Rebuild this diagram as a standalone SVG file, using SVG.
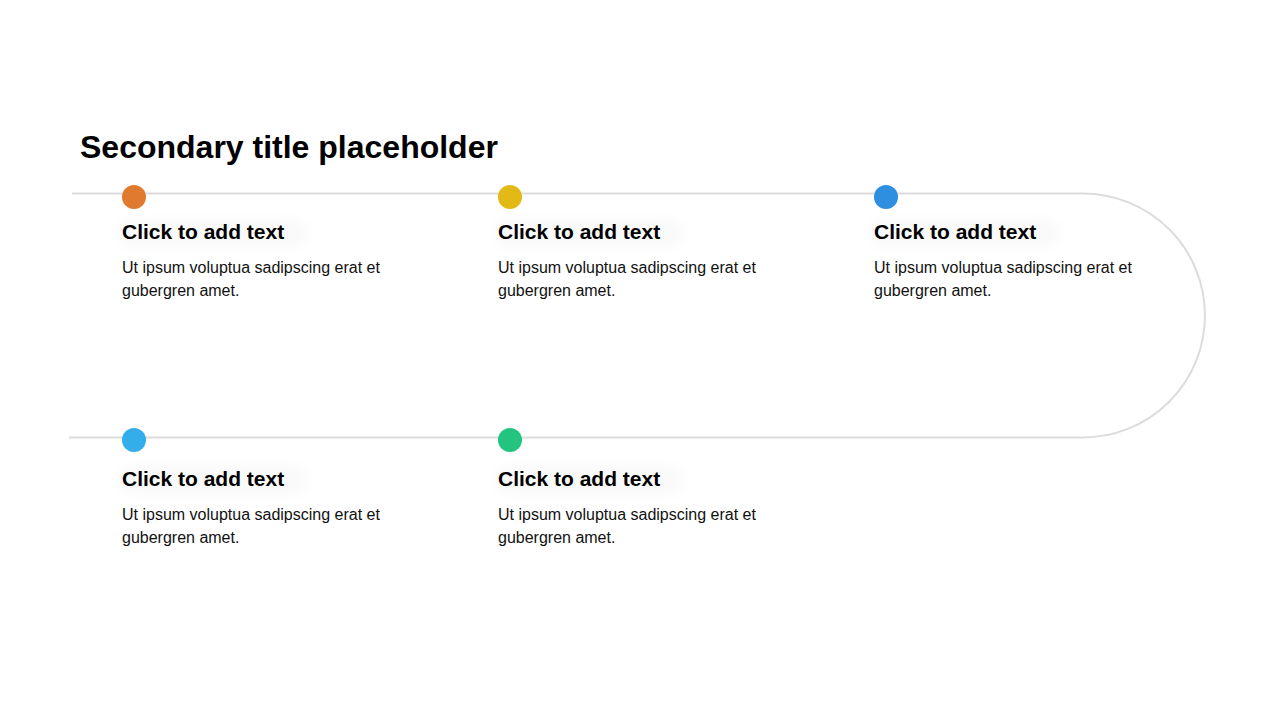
<svg xmlns="http://www.w3.org/2000/svg" width="1280" height="720" viewBox="0 0 1280 720">
<defs>
<style>
.title{font-family:"Liberation Sans",Arial,sans-serif;font-weight:bold;font-size:32px;fill:#000}
.head{font-family:"Liberation Sans",Arial,sans-serif;font-weight:bold;font-size:21px;fill:#000}
.body{font-family:"Liberation Sans",Arial,sans-serif;font-size:16px;fill:#111}
.track{fill:none;stroke:#DCDCDC;stroke-width:2}
.glow{fill:#000;opacity:0.02}
</style>
<filter id="blur" x="-20%" y="-50%" width="140%" height="200%"><feGaussianBlur stdDeviation="6"/></filter>
</defs>
<rect width="1280" height="720" fill="#fff"/>
<text class="title" x="80" y="158">Secondary title placeholder</text>
<g id="connectors">
<path class="track" d="M72 193.5 H1083 A122 122 0 0 1 1083 437.5 H69"/>
</g>
<g id="node1">
<rect class="glow" x="118" y="218" width="190" height="30" rx="14" filter="url(#blur)"/>
<circle cx="134" cy="197" r="12" fill="#E07A2E"/>
<text class="head" x="122" y="239">Click to add text</text>
<text class="body" x="122" y="273">Ut ipsum voluptua sadipscing erat et</text>
<text class="body" x="122" y="296">gubergren amet.</text>
</g>
<g id="node2">
<rect class="glow" x="494" y="218" width="190" height="30" rx="14" filter="url(#blur)"/>
<circle cx="510" cy="197" r="12" fill="#E3B915"/>
<text class="head" x="498" y="239">Click to add text</text>
<text class="body" x="498" y="273">Ut ipsum voluptua sadipscing erat et</text>
<text class="body" x="498" y="296">gubergren amet.</text>
</g>
<g id="node3">
<rect class="glow" x="870" y="218" width="190" height="30" rx="14" filter="url(#blur)"/>
<circle cx="886" cy="197" r="12" fill="#2E8FE0"/>
<text class="head" x="874" y="239">Click to add text</text>
<text class="body" x="874" y="273">Ut ipsum voluptua sadipscing erat et</text>
<text class="body" x="874" y="296">gubergren amet.</text>
</g>
<g id="node4">
<rect class="glow" x="118" y="465" width="190" height="30" rx="14" filter="url(#blur)"/>
<circle cx="134" cy="440" r="12" fill="#33AEEA"/>
<text class="head" x="122" y="486">Click to add text</text>
<text class="body" x="122" y="520">Ut ipsum voluptua sadipscing erat et</text>
<text class="body" x="122" y="543">gubergren amet.</text>
</g>
<g id="node5">
<rect class="glow" x="494" y="465" width="190" height="30" rx="14" filter="url(#blur)"/>
<circle cx="510" cy="440" r="12" fill="#22C47E"/>
<text class="head" x="498" y="486">Click to add text</text>
<text class="body" x="498" y="520">Ut ipsum voluptua sadipscing erat et</text>
<text class="body" x="498" y="543">gubergren amet.</text>
</g>
</svg>
